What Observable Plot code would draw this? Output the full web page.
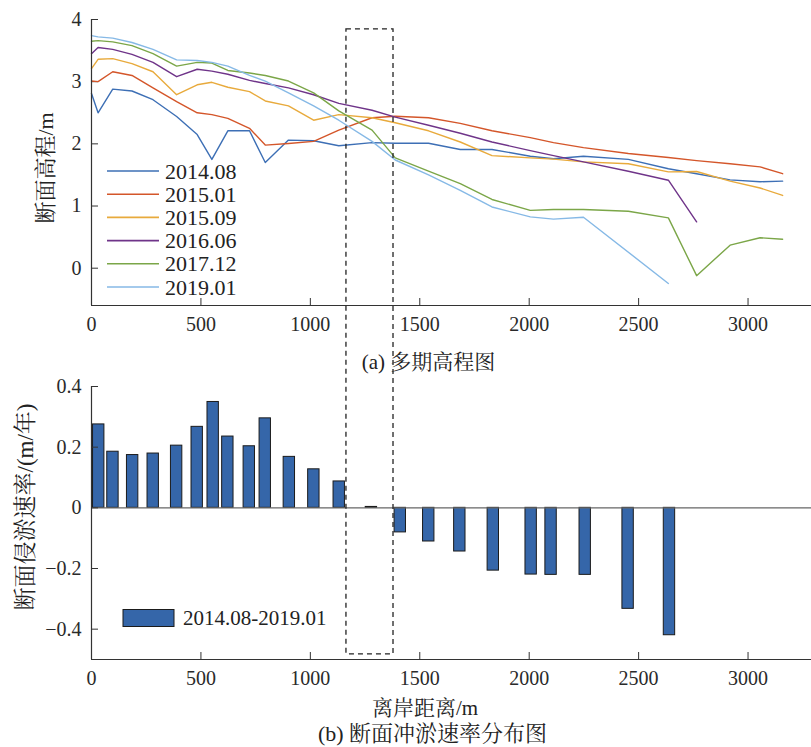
<!DOCTYPE html>
<html><head><meta charset="utf-8">
<script src="https://cdn.jsdelivr.net/npm/d3@7"></script>
<script src="https://cdn.jsdelivr.net/npm/@observablehq/plot@0.6"></script>
<style>
body{margin:0;background:#fff;}
#fig{position:relative;width:811px;height:747px;overflow:hidden;}
#fig svg{position:absolute;left:0;}
#fig svg text{font-family:"Liberation Serif","Times New Roman","Noto Serif CJK SC","Noto Sans CJK SC",serif;}
</style></head><body><div id="fig"></div>
<script>
// ---- data ----
const periods = ["2014.08", "2015.01", "2015.09", "2016.06", "2017.12", "2019.01"];
const colors = ["#3D6FB5", "#D4562A", "#E8AA3C", "#6F3489", "#7BA648", "#86B9E6"];
const distance = [0, 30, 97, 185, 281, 389, 483, 550, 623, 722, 794, 900, 1015, 1130, 1282, 1388, 1540, 1685, 1830, 2005, 2111, 2248, 2453, 2636, 2765, 2918, 3055, 3158];
const e2014_08 = [2.81, 2.50, 2.88, 2.85, 2.71, 2.44, 2.15, 1.75, 2.21, 2.21, 1.70, 2.06, 2.05, 1.97, 2.02, 2.01, 2.01, 1.91, 1.91, 1.80, 1.76, 1.80, 1.75, 1.60, 1.52, 1.42, 1.39, 1.40];
const e2015_01 = [3.01, 3.00, 3.16, 3.10, 2.90, 2.68, 2.50, 2.47, 2.41, 2.25, 1.98, 2.005, 2.04, 2.22, 2.42, 2.445, 2.42, 2.33, 2.21, 2.10, 2.02, 1.94, 1.845, 1.78, 1.73, 1.68, 1.63, 1.52];
const e2015_09 = [3.21, 3.36, 3.37, 3.29, 3.16, 2.79, 2.95, 2.99, 2.91, 2.84, 2.69, 2.61, 2.38, 2.47, 2.42, 2.34, 2.21, 2.03, 1.81, 1.775, 1.755, 1.71, 1.68, 1.55, 1.555, 1.40, 1.29, 1.17];
const e2016_06 = [3.45, 3.55, 3.52, 3.44, 3.31, 3.08, 3.20, 3.17, 3.12, 3.02, 2.97, 2.90, 2.79, 2.65, 2.54, 2.43, 2.30, 2.17, 2.03, 1.89, 1.81, 1.71, 1.56, 1.415, 0.745, null, null, null];
const e2017_12 = [3.65, 3.66, 3.64, 3.58, 3.45, 3.25, 3.31, 3.30, 3.18, 3.14, 3.10, 3.01, 2.82, 2.53, 2.22, 1.775, 1.56, 1.36, 1.105, 0.93, 0.945, 0.945, 0.915, 0.81, -0.12, 0.37, 0.49, 0.465];
const e2019_01 = [3.74, 3.72, 3.70, 3.63, 3.52, 3.35, 3.34, 3.31, 3.25, 3.10, 3.01, 2.82, 2.61, 2.38, 2.04, 1.74, 1.50, 1.25, 0.985, 0.825, 0.79, 0.82, null, -0.245, null, null, null, null];

const rateDistance = [0, 33, 98, 188, 282, 389, 483, 556, 623, 721, 794, 904, 1016, 1132, 1279, 1411, 1541, 1683, 1836, 2009, 2100, 2256, 2452, 2641];
const rate = [0.209, 0.275, 0.185, 0.174, 0.179, 0.205, 0.267, 0.349, 0.235, 0.203, 0.295, 0.168, 0.127, 0.087, 0.003, -0.081, -0.111, -0.144, -0.207, -0.220, -0.221, -0.221, -0.333, -0.420];
const rateLabel = "2014.08-2019.01";

const xTicks = [0, 500, 1000, 1500, 2000, 2500, 3000];
const yTicksA = [0, 1, 2, 3, 4];
const yTicksB = [-0.4, -0.2, 0, 0.2, 0.4];
const zoneX = [1165, 1380];      // highlighted reach (m)
const zoneTopElev = 3.84;         // top of box, elevation units
const zoneBottomRate = -0.483;    // bottom of box, rate units

// ---- tidy ----
const series = [e2014_08, e2015_01, e2015_09, e2016_06, e2017_12, e2019_01];
const profile = [];
series.forEach((s, k) => s.forEach((v, i) => { if (v != null) profile.push({period: periods[k], dist: distance[i], elev: v}); }));
const rates = rateDistance.map((d, i) => ({dist: d, rate: rate[i]}));

const FONT = '"Liberation Serif", "Times New Roman", "Noto Serif CJK SC", "Noto Sans CJK SC", serif';
const W = 811, HA = 372, HB = 375;
const xDomain = [0, 3290];
const fmtB = d => d === 0 ? "0" : d3.format(".1f")(d);

const plotA = Plot.plot({
  width: W, height: HA, marginLeft: 91, marginRight: 0, marginTop: 19, marginBottom: 67,
  style: {fontFamily: FONT, fontSize: "20px", color: "#2a2a2a", background: "transparent", overflow: "visible"},
  x: {domain: xDomain},
  y: {domain: [-0.6, 4]},
  color: {domain: periods, range: colors},
  marks: [
    Plot.axisX({ticks: xTicks, tickSize: -7, tickPadding: 18.5, tickFormat: d => String(d), label: null, stroke: "#333"}),
    Plot.axisY({ticks: yTicksA, tickSize: -7, tickPadding: 17, tickFormat: d => String(d), label: null, stroke: "#333"}),
    Plot.line(profile, {x: "dist", y: "elev", z: "period", stroke: "period", strokeWidth: 1.4}),
    Plot.ruleX([xDomain[0]], {stroke: "#333", strokeWidth: 1.2}),
    Plot.ruleY([-0.6], {stroke: "#333", strokeWidth: 1.2})
  ]
});

const plotB = Plot.plot({
  width: W, height: HB, marginLeft: 91, marginRight: 0, marginTop: 14, marginBottom: 88,
  style: {fontFamily: FONT, fontSize: "20px", color: "#2a2a2a", background: "transparent", overflow: "visible"},
  x: {domain: xDomain},
  y: {domain: [-0.5, 0.4]},
  marks: [
    Plot.rect(rates, {x1: d => d.dist - 26, x2: d => d.dist + 26, y1: 0, y2: "rate", fill: "#3566A9", stroke: "#1b1b1b", strokeWidth: 1, clip: true}),
    Plot.ruleY([0], {stroke: "#666", strokeWidth: 1.2}),
    Plot.axisX({ticks: xTicks, tickSize: -7, tickPadding: 18.5, tickFormat: d => String(d), label: null, stroke: "#333"}),
    Plot.axisY({ticks: yTicksB, tickSize: -7, tickPadding: 17, tickFormat: fmtB, label: null, stroke: "#333"}),
    Plot.ruleX([xDomain[0]], {stroke: "#333", strokeWidth: 1.2}),
    Plot.ruleY([-0.5], {stroke: "#333", strokeWidth: 1.2})
  ]
});

const fig = document.getElementById("fig");
plotA.style.top = "0px";
plotB.style.top = HA + "px";
fig.append(plotA);
fig.append(plotB);

// ---- overlay: highlight box, legends, titles ----
const ov = d3.select(fig).append("svg")
  .attr("width", W).attr("height", 747)
  .style("top", "0px").style("pointer-events", "none");

const xA = plotA.scale("x"), yA = plotA.scale("y"), yB = plotB.scale("y");
const bx1 = xA.apply(zoneX[0]), bx2 = xA.apply(zoneX[1]);
const by1 = yA.apply(zoneTopElev), by2 = HA + yB.apply(zoneBottomRate);
ov.append("rect").attr("x", bx1).attr("y", by1).attr("width", bx2 - bx1).attr("height", by2 - by1)
  .attr("fill", "none").attr("stroke", "#222").attr("stroke-width", 1.3).attr("stroke-dasharray", "5,4");

// line legend
const lg = ov.append("g");
periods.forEach((p, i) => {
  const y = 171 + i * 23.2;
  lg.append("line").attr("x1", 107).attr("x2", 159).attr("y1", y).attr("y2", y)
    .attr("stroke", colors[i]).attr("stroke-width", 1.6);
  lg.append("text").attr("x", 165).attr("y", y).attr("dominant-baseline", "central")
    .attr("font-size", 22).attr("fill", "#222").text(p);
});

// bar legend
ov.append("rect").attr("x", 123).attr("y", 609.5).attr("width", 51).attr("height", 17)
  .attr("fill", "#3566A9").attr("stroke", "#1b1b1b").attr("stroke-width", 1);
ov.append("text").attr("x", 183).attr("y", 618).attr("dominant-baseline", "central")
  .attr("font-size", 21).attr("fill", "#222").text(rateLabel);

function label(txt, x, y, size, rot) {
  ov.append("text").attr("x", 0).attr("y", 0)
    .attr("transform", `translate(${x},${y})` + (rot ? ` rotate(${rot})` : ""))
    .attr("text-anchor", "middle").attr("dominant-baseline", "central")
    .attr("font-size", size).attr("fill", "#222").text(txt);
}
label("断面高程/m", 45, 168, 22, -90);
label("断面侵淤速率/(m/年)", 25, 507, 23, -90);
label("(a) 多期高程图", 428.5, 362, 21);
label("离岸距离/m", 425, 707.5, 21);
label("(b) 断面冲淤速率分布图", 432.5, 733, 22);
</script></body></html>
